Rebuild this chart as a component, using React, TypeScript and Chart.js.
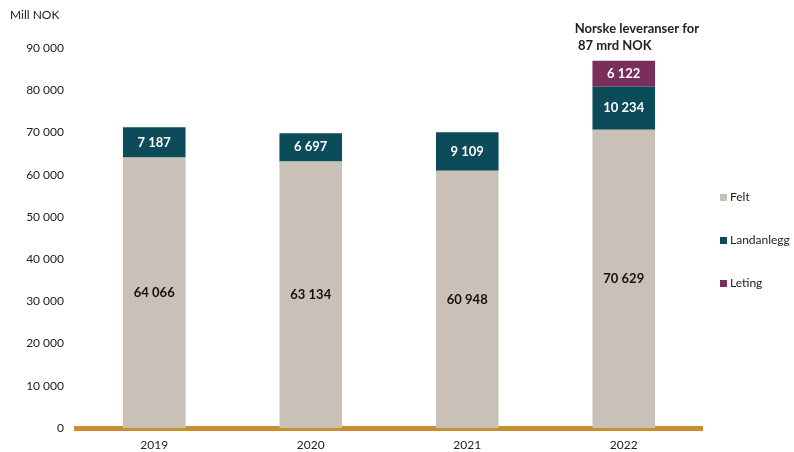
import React, { useEffect, useRef } from "react";
import { Chart, registerables } from "chart.js";

Chart.register(...registerables);

const categories = ["2019", "2020", "2021", "2022"];
const felt = [64066, 63134, 60948, 70629];
const landanlegg = [7187, 6697, 9109, 10234];
const leting = [0, 0, 0, 6122];
const seriesNames = ["Felt", "Landanlegg", "Leting"];
const seriesColors = ["#c9c1b7", "#0b4b5a", "#7a2f5a"];
const labelColors = ["#111111", "#ffffff", "#ffffff"];
const yMax = 90000;
const yStep = 10000;
const axisLabel = "Mill NOK";
const annotationLines = ["Norske leveranser for", " 87 mrd NOK"];

const FONT = "Lato, 'Open Sans', sans-serif";
const fmt = (v: number) => String(Math.round(v)).replace(/\B(?=(\d{3})+(?!\d))/g, " ");

export default function App() {
  const ref = useRef<HTMLCanvasElement | null>(null);
  useEffect(() => {
    if (!ref.current) return;
    const extras = {
      id: "extras",
      afterDatasetsDraw(chart: any) {
        const ctx = chart.ctx;
        ctx.save();
        ctx.textAlign = "center";
        ctx.textBaseline = "middle";
        ctx.font = `bold 13px ${FONT}`;
        chart.data.datasets.forEach((ds: any, di: number) => {
          const meta = chart.getDatasetMeta(di);
          meta.data.forEach((bar: any, i: number) => {
            const v = ds.data[i];
            if (!v) return;
            ctx.fillStyle = labelColors[di];
            ctx.fillText(fmt(v), bar.x, (bar.y + bar.base) / 2);
          });
        });
        ctx.restore();
      },
      afterDraw(chart: any) {
        const ctx = chart.ctx;
        ctx.save();
        ctx.textBaseline = "middle";
        ctx.textAlign = "left";
        ctx.fillStyle = "#222";
        ctx.font = `12px ${FONT}`;
        ctx.fillText(axisLabel, 10, 15);
        const meta = chart.getDatasetMeta(2);
        const last = meta.data[meta.data.length - 1];
        ctx.font = `bold 13px ${FONT}`;
        ctx.fillStyle = "#222";
        ctx.fillText(annotationLines[0], last.x - 49, 29);
        ctx.fillText(annotationLines[1], last.x - 49, 46);
        const ys = [197, 240, 283];
        ctx.font = `12px ${FONT}`;
        seriesNames.forEach((n, i) => {
          ctx.fillStyle = seriesColors[i];
          ctx.fillRect(720, ys[i] - 3, 7, 7);
          ctx.fillStyle = "#222";
          ctx.fillText(n, 730, ys[i]);
        });
        ctx.restore();
      },
    };
    const chart = new Chart(ref.current, {
      type: "bar",
      data: {
        labels: categories,
        datasets: [
          { label: seriesNames[0], data: felt, backgroundColor: seriesColors[0] },
          { label: seriesNames[1], data: landanlegg, backgroundColor: seriesColors[1] },
          { label: seriesNames[2], data: leting, backgroundColor: seriesColors[2] },
        ],
      },
      options: {
        animation: false,
        responsive: false,
        maintainAspectRatio: false,
        layout: { padding: { top: 48, right: 92, left: 0, bottom: 0 } },
        plugins: { legend: { display: false }, tooltip: { enabled: false } },
        datasets: { bar: { barPercentage: 0.8, categoryPercentage: 0.5 } },
        scales: {
          x: {
            stacked: true,
            z: 1,
            grid: { display: false, drawTicks: false },
            border: { display: true, color: "#c98f2e", width: 5 },
            ticks: { color: "#222", font: { family: FONT, size: 12 }, padding: 10 },
            afterFit(s: any) { s.height = 24; },
          },
          y: {
            stacked: true,
            min: 0,
            max: yMax,
            grid: { display: false, drawTicks: false },
            border: { display: false },
            ticks: {
              stepSize: yStep,
              color: "#222",
              font: { family: FONT, size: 12 },
              padding: 12,
              callback: (v: any) => fmt(Number(v)),
            },
            afterFit(s: any) { s.width = 76; },
          },
        },
      } as any,
      plugins: [extras],
    });
    return () => chart.destroy();
  }, []);
  return (
    <div style={{ position: "absolute", left: 0, top: 0, width: 794, height: 452, background: "#fff" }}>
      <canvas ref={ref} width={794} height={452} style={{ width: 794, height: 452, display: "block" }} />
    </div>
  );
}
